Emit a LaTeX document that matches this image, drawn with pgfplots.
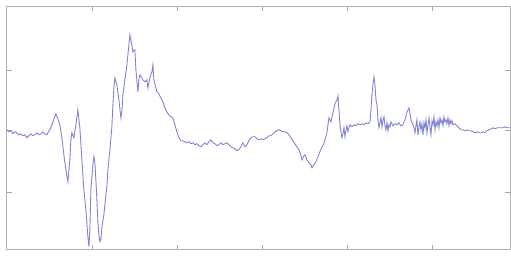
\documentclass[border=0pt]{standalone}
\usepackage{pgfplots}
\pgfplotsset{compat=1.18}
\definecolor{sig}{RGB}{100,100,200}
\begin{document}
\begin{tikzpicture}
\begin{axis}[
  scale only axis,
  width=504pt, height=244pt,
  xmin=0, xmax=503, ymin=-119, ymax=125,
  xtick={85,170,255,340,425}, ytick={-62,0,61},
  xticklabels={}, yticklabels={},
  tick align=inside,
  major tick length=5pt,
  axis line style={draw=black!30, line width=0.8pt},
  every tick/.style={black!35, line width=0.6pt},
]
\addplot[sig, line width=0.9pt, opacity=0.8] coordinates {
(0,1)(2,-1)(4,0)(6,-3)(8,-1)(10,-2)(12,-4)(14,-3)(16,-5)(18,-4)(20,-7)(22,-5)(24,-3)(26,-5)(28,-4)(30,-2)(32,-4)(34,-3)(36,-1)(38,-3)(40,-4)(42,0)(44,3)(46,9)(48,14)(49,17)(51,12)(53,6)(55,-7)(57,-24)(59,-39)(61,-51)(63,-29)(64,-9)(65,-2)(67,-7)(69,6)(71,21)(73,3)(75,-29)(77,-59)(79,-79)(81,-106)(82,-116)(83,-99)(84,-59)(86,-34)(87,-26)(88,-32)(89,-49)(90,-69)(91,-91)(92,-104)(93,-111)(94,-109)(95,-97)(97,-84)(99,-64)(100,-56)(101,-39)(103,-19)(105,4)(106,26)(107,43)(108,53)(110,46)(112,31)(114,13)(115,19)(116,36)(118,51)(120,66)(121,76)(123,96)(124,91)(125,86)(126,79)(128,81)(129,61)(131,39)(132,51)(133,56)(135,53)(136,51)(138,49)(140,51)(141,43)(143,53)(145,59)(146,66)(147,51)(149,43)(150,39)(152,37)(154,33)(156,29)(158,23)(160,19)(162,16)(164,14)(166,13)(168,6)(170,-1)(172,-7)(174,-10)(176,-10)(178,-11)(180,-12)(182,-11)(184,-13)(186,-12)(188,-14)(190,-13)(192,-15)(194,-16)(196,-14)(198,-12)(200,-14)(202,-11)(204,-9)(206,-12)(208,-13)(210,-15)(212,-14)(214,-12)(216,-14)(218,-13)(220,-12)(222,-14)(224,-16)(226,-17)(228,-18)(230,-20)(232,-19)(234,-16)(236,-12)(238,-16)(240,-14)(242,-10)(244,-7)(246,-6)(248,-6)(250,-8)(252,-9)(254,-8)(256,-9)(258,-8)(260,-7)(262,-5)(264,-5)(266,-3)(268,-1)(270,0)(272,1)(274,0)(276,-1)(278,-1)(280,-2)(282,-4)(284,-7)(286,-10)(288,-13)(290,-16)(292,-19)(294,-25)(295,-29)(297,-25)(298,-24)(300,-29)(302,-32)(304,-34)(305,-37)(307,-34)(309,-31)(311,-26)(313,-21)(315,-16)(317,-13)(318,-9)(320,-2)(321,6)(322,13)(324,9)(326,18)(328,27)(330,31)(331,35)(332,21)(333,6)(334,-1)(335,-7)(336,-3)(337,3)(338,-6)(339,1)(340,5)(341,-1)(342,3)(343,6)(345,4)(347,6)(349,5)(351,7)(353,6)(355,7)(357,6)(359,8)(361,7)(363,9)(364,21)(365,36)(366,46)(367,54)(368,46)(369,31)(370,26)(371,11)(372,3)(373,8)(374,13)(375,4)(376,11)(377,14)(378,5)(379,1)(380,8)(381,0)(382,6)(383,4)(384,9)(386,5)(388,7)(390,6)(392,8)(394,5)(396,6)(398,11)(400,19)(402,23)(403,17)(404,11)(405,8)(406,6)(407,3)(408,-2)(409,5)(410,11)(411,-4)(412,4)(413,9)(414,1)(415,7)(416,-4)(417,8)(418,3)(419,11)(420,-2)(421,6)(422,13)(423,3)(424,-4)(425,10)(426,6)(427,14)(428,1)(429,9)(430,5)(431,11)(432,3)(433,13)(434,8)(435,11)(436,5)(437,14)(438,9)(439,11)(440,7)(441,13)(442,5)(443,11)(444,7)(445,10)(446,6)(448,7)(450,5)(452,3)(454,1)(456,1)(458,0)(460,1)(462,0)(464,0)(466,-1)(468,-2)(470,-1)(472,-2)(474,-2)(476,-1)(478,-2)(480,0)(482,1)(484,2)(486,3)(488,2)(490,3)(492,3)(494,3)(496,3)(498,4)(500,3)(502,3)(503,3)
};
\end{axis}
\path ([shift={(-6pt,-6pt)}]current axis.south west) rectangle ([shift={(1pt,6pt)}]current axis.north east);
\end{tikzpicture}
\end{document}
